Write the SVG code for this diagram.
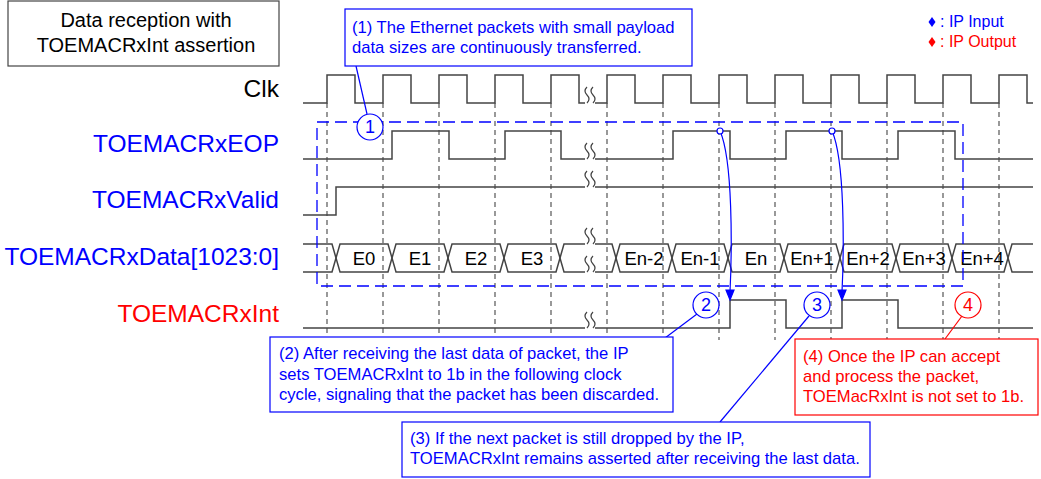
<svg xmlns="http://www.w3.org/2000/svg" width="1041" height="479" viewBox="0 0 1041 479">
<style>
.w{fill:none;stroke:#444;stroke-width:1.5}
.g{fill:none;stroke:#555;stroke-width:1.2;stroke-dasharray:5,4}
.t{font-family:"Liberation Sans",Arial,sans-serif}
.lb{font-size:24.5px;text-anchor:end}
.c{font-size:16.6px}
.d{font-size:18.5px;text-anchor:middle}
.n{font-size:18px;text-anchor:middle}
.bl{fill:#0000ff}
.rd{fill:#ff0000}
</style>
<defs>
<path id="sq" d="M-3,-8 q-4,4 0,8 q4,4 0,8 M3,-8 q-4,4 0,8 q4,4 0,8" fill="none" stroke="#444" stroke-width="1.2"/>
</defs>
<rect width="1041" height="479" fill="#fff"/>
<g id="title"><rect x="8" y="1" width="271" height="65" fill="#fff" stroke="#444" stroke-width="1.2"/>
<text class="t" x="146" y="27" font-size="20" text-anchor="middle">Data reception with</text>
<text class="t" x="146" y="52" font-size="20" text-anchor="middle">TOEMACRxInt assertion</text></g>
<g id="legend" class="t" font-size="16">
<path d="M932,17 l3.5,5 l-3.5,5 l-3.5,-5z" class="bl"/><text x="940" y="27" class="bl">: IP Input</text>
<path d="M932,37 l3.5,5 l-3.5,5 l-3.5,-5z" class="rd"/><text x="940" y="47" class="rd">: IP Output</text></g>
<g id="labels" class="t lb">
<text x="279" y="97">Clk</text>
<text x="279" y="152" class="bl">TOEMACRxEOP</text>
<text x="279" y="208" class="bl">TOEMACRxValid</text>
<text x="279" y="265" class="bl">TOEMACRxData[1023:0]</text>
<text x="279" y="322" class="rd">TOEMACRxInt</text></g>
<g id="grid">
<path class="g" d="M327,103V340M383,103V340M439,103V340M495,103V340M551,103V340M607,103V340M663,103V340M719,103V340M775,103V340M831,103V340M887,103V340M943,103V340M999,103V340"/></g>
<g id="waves">
<path class="w" d="M303,103H327V75H355V103H383V75H411V103H439V75H467V103H495V75H523V103H551V75H579V103H607V75H635V103H663V75H691V103H719V75H747V103H775V75H803V103H831V75H859V103H887V75H915V103H943V75H971V103H999V75H1027V103H1033"/>
<path class="w" d="M303,159H392V131H449V159H505V131H561V159H673V131H730V159H786V131H842V159H898V131H955V159H1033"/>
<path class="w" d="M303,215H336V187H1033"/>
<path class="w" d="M303,244H332L340,272H388L396,244H444L452,272H500L508,244H556L564,272H612L620,244H668L676,272H724L732,244H780L788,272H836L844,244H892L900,272H948L956,244H1004L1012,272H1033"/>
<path class="w" d="M303,272H332L340,244H388L396,272H444L452,244H500L508,272H556L564,244H612L620,272H668L676,244H724L732,272H780L788,244H836L844,272H892L900,244H948L956,272H1004L1012,244H1033"/>
<path class="w" d="M303,328H730V300H786V328H842V300H898V328H1033"/>
<g fill="#fff"><rect x="585" y="95" width="10" height="16"/><rect x="585" y="151" width="10" height="16"/><rect x="585" y="179" width="10" height="16"/><rect x="585" y="236" width="10" height="16"/><rect x="585" y="264" width="10" height="16"/><rect x="585" y="320" width="10" height="16"/></g>
<use href="#sq" x="590" y="95"/><use href="#sq" x="590" y="151"/><use href="#sq" x="590" y="179"/><use href="#sq" x="590" y="236"/><use href="#sq" x="590" y="264"/><use href="#sq" x="590" y="320"/>
</g>
<g id="data-labels" class="t d">
<text x="364" y="265">E0</text><text x="420" y="265">E1</text><text x="476" y="265">E2</text><text x="532" y="265">E3</text>
<text x="644" y="265">En-2</text><text x="700" y="265">En-1</text><text x="756" y="265">En</text><text x="812" y="265">En+1</text>
<text x="868" y="265">En+2</text><text x="924" y="265">En+3</text><text x="982" y="265">En+4</text></g>
<g id="dashbox"><path d="M317,122H963V286H317Z" fill="none" stroke="#0000ff" stroke-width="1.3" stroke-dasharray="12,6"/></g>
<g id="connectors" fill="none" stroke="#0000ff" stroke-width="1.2">
<path d="M356,66L367,114"/>
<path d="M720,131C733,160 732,250 730,292"/>
<path d="M832,131C845,160 844,250 842,292"/>
<path d="M726,290L734,290L730,300Z M838,290L846,290L842,300Z" fill="#0000ff"/>
<path d="M697,314L665,338"/>
<path d="M809,316L720,422"/>
<path d="M962,316L945,339" stroke="#ff0000"/>
<circle cx="720" cy="131" r="3" fill="#fff"/><circle cx="832" cy="131" r="3" fill="#fff"/>
</g>
<g id="c1"><circle cx="370" cy="127" r="13" fill="#fff" stroke="#0000ff" stroke-width="1.2"/><text class="t bl n" x="370" y="133">1</text></g>
<g id="c2"><circle cx="706" cy="305" r="13" fill="#fff" stroke="#0000ff" stroke-width="1.2"/><text class="t bl n" x="706" y="311">2</text></g>
<g id="c3"><circle cx="817" cy="305" r="13" fill="#fff" stroke="#0000ff" stroke-width="1.2"/><text class="t bl n" x="817" y="311">3</text></g>
<g id="c4"><circle cx="968" cy="305" r="13" fill="#fff" stroke="#ff0000" stroke-width="1.2"/><text class="t rd n" x="968" y="311">4</text></g>
<g id="n1"><rect x="345" y="9" width="347" height="57" fill="#fff" stroke="#0000ff" stroke-width="1.2"/>
<text class="t c bl" x="352" y="33">(1) The Ethernet packets with small payload</text>
<text class="t c bl" x="352" y="53">data sizes are continuously transferred.</text></g>
<g id="n2"><rect x="270" y="337" width="403" height="75" fill="#fff" stroke="#0000ff" stroke-width="1.2"/>
<text class="t c bl" x="279" y="359">(2) After receiving the last data of packet, the IP</text>
<text class="t c bl" x="279" y="380">sets TOEMACRxInt to 1b in the following clock</text>
<text class="t c bl" x="279" y="400">cycle, signaling that the packet has been discarded.</text></g>
<g id="n3"><rect x="402" y="422" width="468" height="55" fill="#fff" stroke="#0000ff" stroke-width="1.2"/>
<text class="t c bl" x="410" y="444">(3) If the next packet is still dropped by the IP,</text>
<text class="t c bl" x="410" y="464">TOEMACRxInt remains asserted after receiving the last data.</text></g>
<g id="n4"><rect x="795" y="339" width="243" height="76" fill="#fff" stroke="#ff0000" stroke-width="1.2"/>
<text class="t c rd" x="803" y="362">(4) Once the IP can accept</text>
<text class="t c rd" x="803" y="382">and process the packet,</text>
<text class="t c rd" x="803" y="402">TOEMacRxInt is not set to 1b.</text></g>
</svg>
